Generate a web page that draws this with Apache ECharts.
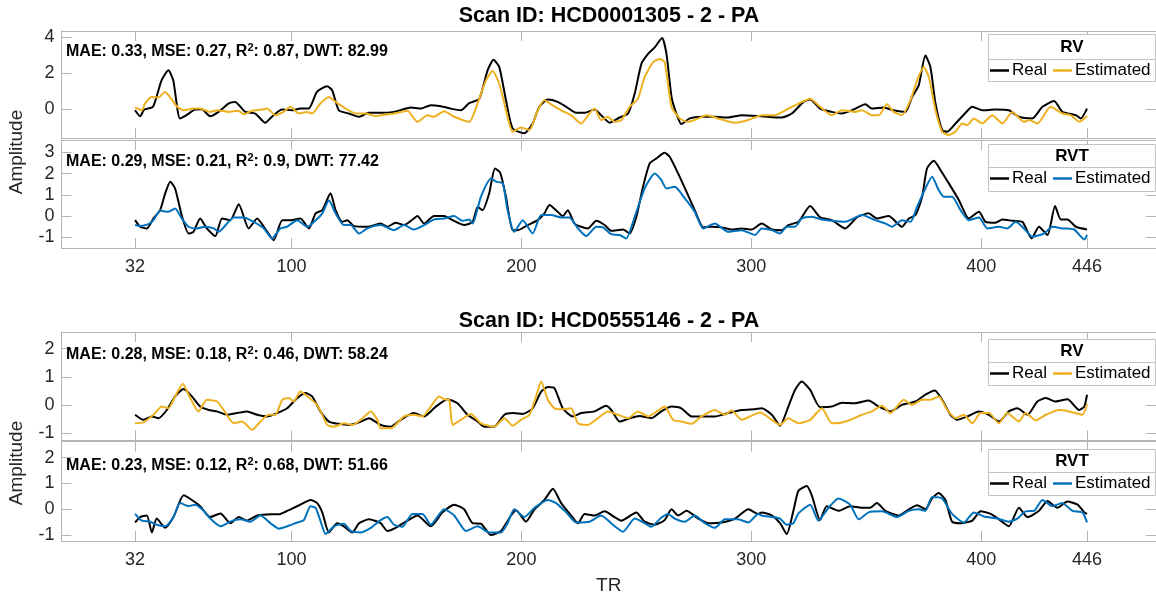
<!DOCTYPE html>
<html>
<head>
<meta charset="utf-8">
<script src="https://cdn.jsdelivr.net/npm/echarts@6/dist/echarts.min.js"></script>
<style>
  html, body { margin: 0; background: #fff; }
  #chart { width: 1156px; height: 596px; }
</style>
</head>
<body>
<div id="chart"></div>
<script>
// tick labels of the TR axis
const trTicks = [32, 100, 200, 300, 400, 446];

// Scan HCD0001305 - RV
const s1RvReal = [[32,-0.04],[34.2,-0.37],[36,0],[39.8,0.15],[43.5,1.61],[46.5,2.16],[48.6,1.61],[51.5,-0.49],[54.4,-0.31],[58,0],[61,0.02],[64.6,-0.37],[68.3,-0.13],[72.6,0.33],[75.5,0.42],[79.9,-0.13],[84.3,-0.22],[88.6,-0.73],[91.5,-0.4],[95.9,0],[100.2,-0.04],[103.8,0.05],[107.5,0.05],[111.1,0.97],[115.5,1.28],[117.7,1.06],[120.6,-0.04],[124.9,-0.22],[129.3,-0.4],[133.7,-0.18],[138.8,-0.18],[144.6,-0.13],[151.9,0.11],[156.2,0.05],[160.6,0.24],[165,0.18],[169.3,0.05],[173.7,-0.04],[177.3,0.35],[181.7,0.6],[185.3,2.16],[187.9,2.74],[190.4,2.34],[193.3,0.51],[196.2,-1.04],[201.3,-1.31],[204.9,-0.77],[207.8,0.15],[211.5,0.55],[215.8,0.42],[219.5,0.15],[223.8,-0.18],[227.5,-0.18],[231.8,0],[234.7,-0.31],[238.4,-0.73],[242.7,-0.44],[246.4,-0.22],[249.3,0.88],[252.2,2.52],[255.1,3.07],[258,3.43],[261.2,3.95],[263.1,3.07],[265.3,0.69],[267.4,-0.22],[269.6,-0.8],[273.2,-0.49],[278.3,-0.4],[284.1,-0.4],[290,-0.44],[295.8,-0.31],[304.5,-0.37],[313.2,-0.44],[317.6,-0.22],[322.7,0.42],[325.6,0.55],[329.9,0.05],[335,-0.13],[339.4,-0.22],[344.5,0],[349.6,0.29],[352.5,0.05],[357.5,0.11],[361.9,-0.04],[367,-0.13],[369.9,0.69],[372.8,1.33],[375.7,2.98],[377.9,2.34],[380.1,0.33],[383,-1.13],[385.2,-1.22],[388.8,-0.77],[393.2,-0.18],[396.1,0.15],[400.4,-0.04],[406.2,0],[412,-0.04],[416.4,-0.4],[422.2,-0.49],[426.6,0.15],[431.7,0.47],[435.3,-0.13],[441.1,-0.31],[443.3,-0.49],[446,0.05]];
const s1RvEst = [[32,0.11],[35,-0.04],[36.3,0.33],[39.2,0.69],[42.1,0.66],[45,0.97],[47.2,0.69],[50.1,0.18],[53,-0.04],[57.4,0.05],[60.3,0.05],[64.6,-0.13],[67.6,-0.04],[72.6,-0.13],[77,-0.07],[79.2,-0.26],[82.8,-0.07],[87.2,0],[89.4,0.05],[93,-0.31],[96.6,-0.13],[99.6,0.15],[103.2,-0.22],[106.9,-0.13],[109,-0.22],[112.6,0.33],[116.3,0.69],[119.2,0.42],[123.6,0.05],[128,-0.22],[132.3,-0.22],[136.7,-0.37],[138.8,-0.31],[144.6,-0.22],[150.4,-0.07],[154.8,-0.68],[159.1,-0.31],[162,-0.4],[166.4,-0.09],[170.8,-0.4],[177.3,-0.68],[180.9,0.33],[184.6,1.61],[187.5,2.12],[190.4,1.42],[193.3,-0.04],[196.2,-1.22],[199.8,-0.99],[203.5,-1.13],[207.1,-0.04],[210,0.51],[212.9,0.29],[217.3,-0.04],[221.6,-0.31],[226,-0.77],[229.6,-0.22],[231.8,0.05],[234.7,-0.58],[237.6,-0.4],[240.5,-0.68],[243.5,-0.58],[247.1,0.15],[250.7,0.6],[253.6,1.79],[257.3,2.61],[260.2,2.79],[262.3,2.61],[265.3,0.15],[268.9,-0.49],[272.5,-0.68],[276.9,-0.49],[280.5,-0.31],[285.6,-0.49],[292.9,-0.73],[298.7,-0.58],[304.5,-0.31],[310.3,-0.31],[316.1,0.05],[320.5,0.33],[325.6,0.6],[329.9,0.15],[335,-0.31],[339.4,-0.04],[345.2,-0.13],[348.1,-0.04],[352.5,-0.31],[355.4,-0.31],[359,0.29],[361.9,-0.13],[365.5,-0.31],[369.2,0.51],[372.1,1.61],[375,2.34],[377.2,1.79],[380.1,-0.04],[383,-1.22],[385.9,-1.4],[388.8,-1.22],[391.7,-0.77],[393.9,-0.86],[396.8,-0.49],[400.4,-0.77],[404.8,-0.31],[409.2,-0.77],[413.5,-0.13],[418.6,-0.68],[420.8,-0.58],[424.4,-0.77],[430.2,0.15],[435.3,-0.22],[438.9,-0.31],[442.6,-0.68],[446,-0.37]];

// Scan HCD0001305 - RVT
const s1RvtReal = [[32,-0.19],[34.2,-0.5],[37.1,-0.58],[40,-0.11],[42.9,0.28],[45.1,1.07],[47.3,1.62],[49.4,1.3],[52.3,0.03],[55.3,-0.82],[57.4,-0.74],[60.3,-0.11],[63.2,-0.58],[66.9,-0.94],[69.8,-0.11],[73.4,-0.19],[77.1,0.56],[81.4,-0.58],[85.1,-0.11],[88,-0.5],[92.3,-1.13],[96,-0.19],[99.6,-0.19],[103.9,-0.11],[107.6,-0.58],[110.5,0.13],[113.4,0.28],[117,1.07],[119.2,0.28],[122.1,-0.27],[124.3,-0.19],[127.2,-0.47],[133,-0.5],[138.8,-0.35],[141.7,-0.5],[145.3,-0.31],[149,-0.42],[153.3,-0.11],[154.8,0],[157.7,-0.35],[162,0],[166.4,0],[170.1,-0.19],[175.1,-0.42],[178.8,-0.27],[181,0.44],[183.1,0.28],[186,1.07],[188.5,2.24],[190.8,2.04],[193.3,0.91],[196.2,-0.66],[198.4,-0.66],[202.8,-0.42],[207.1,-0.19],[210,0.13],[212.2,0.52],[215.1,0.28],[218,0],[220.2,0.28],[223.1,-0.35],[226,-0.5],[228.9,-0.58],[232.6,-0.22],[236.2,-0.42],[239.1,-0.69],[244.2,-0.63],[247.1,-0.82],[250,-0.03],[252.9,1.38],[255.8,2.48],[258.7,2.71],[262.3,2.98],[264.5,2.79],[268.2,2],[271.8,1.15],[275.4,0.28],[279.1,-0.53],[282.7,-0.5],[287.1,-0.53],[291.4,-0.63],[295.8,-0.58],[300.1,-0.63],[304.5,-0.35],[308.9,-0.63],[313.2,-0.66],[316.1,-0.42],[320.5,-0.27],[325.6,0.47],[329.9,-0.06],[335,-0.19],[340.8,-0.58],[345.9,-0.06],[351,0.13],[354.6,-0.11],[359.7,0],[365.5,-0.5],[368.5,-0.11],[371.4,0.05],[374.3,0.91],[376.4,2.24],[379.4,2.6],[382.3,2.16],[385.9,1.54],[390.3,0.75],[394.6,-0.11],[399,0.2],[401.9,-0.27],[406.2,-0.31],[409.2,-0.16],[413.5,-0.22],[417.9,-0.27],[421.9,-1.05],[425.1,-0.5],[428.8,-0.89],[432.1,0.47],[434.6,-0.16],[437.5,-0.16],[441.1,-0.5],[446,-0.63]];
const s1RvtEst = [[32,-0.42],[34.2,-0.47],[37.8,-0.38],[40,-0.19],[42.9,0.25],[46.5,0.2],[49.4,0.36],[52.3,-0.11],[55.3,-0.5],[58.9,-0.58],[62.5,-0.5],[66.2,-0.58],[68.3,-0.74],[72,-0.35],[74.9,-0.06],[79.2,-0.06],[83.6,-0.27],[88,-0.58],[91.6,-1.05],[95.2,-0.58],[98.1,-0.5],[102.5,-0.19],[106.9,-0.5],[109.8,-0.27],[113.4,0.13],[116.3,0.75],[119.2,0.13],[122.8,-0.42],[125.8,-0.42],[129.4,-0.82],[133,-0.58],[138.8,-0.42],[144.6,-0.66],[149,-0.42],[153.3,-0.63],[157.7,-0.42],[162,-0.16],[166.4,-0.11],[170.8,0],[174.4,-0.22],[177.3,-0.16],[178.8,-0.35],[182.4,0.91],[186.8,1.77],[189,1.62],[191.9,1.54],[194,0.28],[196.9,-0.74],[200.6,-0.19],[204.9,-0.82],[208.6,0.05],[212.9,0.05],[217.3,-0.06],[220.9,-0.06],[224.6,-0.58],[228.2,-0.94],[232.6,-0.5],[235.5,-0.53],[239.1,-0.85],[242.7,-0.89],[245.6,-1.05],[249.3,-0.03],[253.6,1.3],[258,2],[260.9,1.69],[263.1,1.3],[266.7,1.38],[271.1,0.83],[275.4,0.2],[279.1,-0.58],[284.1,-0.35],[290,-0.74],[295.8,-0.66],[301.6,-0.89],[304.5,-0.58],[308.9,-0.66],[312.5,-0.82],[315.4,-0.5],[319,-0.5],[322,-0.11],[326.3,-0.03],[330.7,-0.16],[335,-0.22],[340.8,-0.27],[348.1,0.05],[353.9,-0.19],[358.3,-0.35],[361.2,-0.5],[365.5,-0.19],[369.2,-0.27],[372.1,0.44],[375.7,1.3],[378.6,1.85],[381.5,1.22],[383.7,0.91],[387.3,0.91],[391,0.28],[394.6,-0.19],[399,-0.06],[402.6,-0.58],[407.7,-0.5],[411.3,-0.58],[415,-0.27],[419.3,-0.66],[422.2,-0.97],[427.3,-0.82],[430.9,-0.5],[435.3,-0.58],[440.4,-0.63],[444.8,-1.1],[446,-0.89]];

// Scan HCD0555146 - RV
const s2RvReal = [[32,-0.34],[35.6,-0.52],[39.3,-0.4],[42.2,-0.46],[45.8,-0.17],[49.4,0.31],[53.1,0.57],[56.7,0.31],[60.3,-0.05],[64,-0.17],[67.6,-0.22],[72,-0.34],[76.3,-0.28],[80.7,-0.22],[85.1,-0.34],[89.4,-0.4],[93.8,-0.28],[98.1,-0.11],[102.5,0.25],[106.1,0.43],[109,0.31],[112.6,-0.22],[116.3,-0.58],[120.6,-0.66],[125,-0.7],[129.4,-0.61],[133.7,-0.46],[138.8,-0.7],[143.2,-0.76],[147.5,-0.52],[153.3,-0.28],[157.7,-0.4],[162.8,-0.05],[167.9,0.21],[172.2,0.07],[176.6,-0.34],[181,-0.58],[183.9,-0.76],[188.2,-0.76],[192.6,-0.34],[196.2,-0.28],[200.6,-0.31],[204.9,-0.11],[208.6,0.48],[211.5,0.64],[214.4,0.6],[218,-0.11],[222.4,-0.4],[226,-0.28],[231.8,-0.22],[236.9,-0.02],[239.1,-0.17],[242.7,-0.58],[247.1,-0.46],[251.4,-0.38],[256.5,-0.46],[260.9,-0.22],[265.3,-0.05],[269.6,-0.11],[274,-0.4],[278.3,-0.4],[284.1,-0.4],[290,-0.28],[295.8,-0.17],[301.6,-0.14],[304.5,-0.11],[308.9,-0.34],[312.5,-0.73],[316.1,-0.05],[319,0.54],[321.9,0.84],[325.6,0.54],[329.9,-0.07],[335,-0.05],[339.4,0.09],[345.2,0.07],[351,0.17],[355.4,-0.05],[360.5,-0.22],[365.5,0.01],[371.4,0.13],[375.7,0.37],[379.8,0.52],[383,0.19],[386.6,-0.34],[389.5,-0.52],[393.9,-0.4],[399,-0.22],[403.3,-0.34],[407.7,-0.58],[412,-0.22],[415.7,-0.11],[420.1,-0.34],[424.4,0.13],[428.1,0.25],[432.4,0.13],[437.5,0.21],[442.6,-0.17],[444.8,-0.05],[446,0.37]];
const s2RvEst = [[32,-0.64],[35.6,-0.61],[40,-0.34],[43.6,-0.05],[46.5,-0.11],[49.4,0.31],[52.8,0.76],[55.3,0.37],[59.6,-0.22],[63.2,0.19],[67.6,0.13],[70.5,-0.17],[74.9,-0.64],[78.5,-0.58],[82.9,-0.87],[86.5,-0.58],[90.1,-0.34],[93,-0.34],[96,0.19],[98.9,0.25],[101,0.13],[103.9,0.48],[106.9,0.31],[110.5,0.07],[112.7,-0.22],[115.6,-0.7],[118.5,-0.76],[122.8,-0.64],[126.5,-0.7],[130.1,-0.52],[134.5,-0.22],[137.4,-0.52],[138.8,-0.82],[143.2,-0.82],[149,-0.4],[153.3,-0.34],[157,-0.4],[160.6,-0.05],[164.2,0.31],[166.4,0.21],[168.6,0.19],[170.1,-0.7],[173.7,-0.52],[178,-0.31],[182.4,-0.64],[188.2,-0.76],[192.6,-0.46],[196.2,-0.73],[199.8,-0.52],[203.5,-0.34],[206.4,0.31],[208.6,0.84],[211.5,0.19],[214.4,-0.11],[218,-0.14],[221.6,-0.11],[224.6,-0.64],[228.9,-0.7],[233.3,-0.46],[237.6,-0.22],[241.9,-0.34],[246.4,-0.46],[250.7,-0.22],[255.1,-0.4],[259.4,-0.19],[262.3,-0.05],[266,-0.52],[269.6,-0.58],[274,-0.66],[278.3,-0.4],[284.1,-0.17],[288.5,-0.34],[291.4,-0.19],[295.8,-0.52],[299.4,-0.4],[303.8,-0.26],[308.9,-0.52],[312.5,-0.7],[316.1,-0.46],[320.5,-0.64],[325.6,-0.52],[330.7,-0.11],[335,-0.64],[339.4,-0.61],[343.7,-0.5],[348.1,-0.34],[352.5,-0.22],[356.8,-0.02],[360.5,-0.28],[366.3,0.19],[369.9,0.01],[374.3,0.19],[377.9,0.19],[381.5,0.31],[385.2,-0.17],[388.8,-0.46],[392.4,-0.34],[396.1,-0.64],[399.7,-0.28],[403.3,-0.28],[407.7,-0.64],[411.3,-0.28],[416.4,-0.58],[419.3,-0.28],[423.7,-0.54],[428.1,-0.34],[433.9,-0.17],[438.2,-0.22],[444,-0.34],[446,0.05]];

// Scan HCD0555146 - RVT
const s2RvtReal = [[32,-0.51],[34.2,-0.3],[37.1,-0.24],[39.3,-0.9],[41.4,-0.36],[45.1,-0.72],[48.7,-0.3],[53.1,0.54],[56.7,0.36],[60.3,0.12],[64.7,-0.3],[69.1,-0.16],[73.4,-0.54],[77.1,-0.3],[80.7,-0.44],[85.1,-0.24],[89.4,-0.2],[95.2,-0.18],[99.6,0],[103.9,0.18],[108.3,0.36],[111.2,0.24],[113.4,-0.12],[116.3,-0.9],[119.9,-0.54],[122.8,-0.66],[126.5,-0.9],[129.4,-0.54],[133.7,-0.39],[138.8,-0.54],[141.7,-0.84],[145.3,-0.72],[149.7,-0.48],[154.8,-0.24],[160.6,-0.66],[165.7,-0.12],[170.8,0.18],[175.1,0],[178.8,-0.54],[182.4,-0.56],[186.8,-1],[191.1,-0.84],[195.5,-0.24],[197.7,-0.04],[202,-0.48],[205.7,0],[210,0.36],[213.7,0.8],[217.3,0.24],[221.6,-0.24],[224.6,-0.54],[227.5,-0.18],[231.8,-0.24],[236.2,-0.08],[240.5,-0.3],[243.5,-0.44],[250,-0.12],[253.6,-0.48],[258,-0.6],[262.3,-0.42],[265.3,0],[268.2,-0.24],[271.8,-0.06],[276.9,-0.36],[281.2,-0.54],[287.1,-0.51],[292.9,-0.36],[298.7,0],[303,-0.18],[304.5,-0.12],[308.9,-0.24],[312.5,-0.54],[315.4,-0.96],[318.3,-0.06],[320.5,0.72],[324.1,0.9],[326.3,0.54],[329.9,-0.42],[332.8,0.12],[337.9,-0.06],[343,0.12],[348.1,0.06],[351.7,0.06],[354.6,0.24],[358.3,-0.06],[364.1,-0.24],[368.5,0],[372.1,0.16],[375.7,0],[378.6,0.42],[381.5,0.63],[384.4,0.36],[387.3,-0.48],[391,-0.54],[396.1,-0.44],[399.7,-0.08],[404.1,-0.18],[407.7,-0.39],[412,-0.66],[416.4,0.06],[420.1,-0.3],[425.1,-0.06],[428.8,0.32],[433.1,0.06],[437.5,0.3],[441.9,0.18],[444.8,-0.12],[446,-0.18]];
const s2RvtEst = [[32,-0.18],[34.9,-0.44],[38.5,-0.48],[41.4,-0.6],[45.1,-0.66],[48.7,-0.3],[51.6,0.24],[55.3,0.12],[58.2,0.18],[61.1,0],[64.7,-0.36],[69.1,-0.66],[73.4,-0.48],[77.8,-0.39],[82.1,-0.48],[86.5,-0.24],[90.9,-0.54],[94.5,-0.75],[98.1,-0.66],[102.5,-0.51],[105.4,-0.42],[108.3,0.12],[110.5,0.06],[113.4,-0.66],[114.8,-0.96],[118.5,-0.66],[122.8,-0.56],[125.8,-0.84],[130.1,-0.9],[134.5,-0.72],[138.8,-0.42],[141.7,-0.3],[144.6,-0.6],[148.2,-0.68],[152.6,-0.18],[157,-0.18],[160.6,-0.6],[166.4,0],[170.8,-0.24],[175.9,-0.84],[181,-0.66],[186,-0.9],[191.1,-0.9],[194,-0.54],[196.9,0],[201.3,-0.3],[205.7,0.06],[211.5,0.36],[215.1,0.24],[219.5,-0.12],[223.8,-0.51],[229.6,-0.48],[234.7,-0.24],[239.8,-0.6],[244.2,-0.87],[249.3,-0.36],[253.6,-0.54],[256.5,-0.68],[260.9,-0.32],[263.8,-0.18],[266.7,-0.36],[271.1,-0.48],[275.4,-0.24],[279.8,-0.54],[284.1,-0.72],[288.5,-0.39],[294.3,-0.39],[298.7,-0.51],[303,-0.18],[304.5,-0.24],[308.9,-0.3],[312.5,-0.36],[315.4,-0.6],[318.3,-0.54],[320.5,-0.16],[325.6,0.18],[329.2,-0.44],[333.6,0.06],[337.9,0.42],[343,0.18],[346.7,-0.39],[351,-0.12],[356.8,-0.08],[363.4,-0.3],[368.5,-0.06],[372.8,0],[375.7,-0.06],[378.6,0.48],[383,0.42],[387.3,-0.18],[392.4,-0.51],[396.8,-0.12],[401.2,-0.28],[407,-0.36],[412,-0.48],[415.7,-0.36],[419.3,-0.08],[423,-0.06],[426.6,0.36],[431,0.12],[435.1,0.24],[439.7,-0.06],[444,-0.12],[446,-0.51]];

const titles = ['Scan ID: HCD0001305 - 2 - PA', 'Scan ID: HCD0555146 - 2 - PA'];
const metrics = [
  ['0.33', '0.27', '0.87', '82.99'],
  ['0.29', '0.21', '0.9', '77.42'],
  ['0.28', '0.18', '0.46', '58.24'],
  ['0.23', '0.12', '0.68', '51.66']
];
const panelNames = ['RV', 'RVT', 'RV', 'RVT'];

const FONT = '"Liberation Sans", Arial, Helvetica, sans-serif';
const AXIS_GRAY = '#b3b3b3';
const TEXT_GRAY = '#262626';
const ORANGE = '#EDB120';
const BLUE = '#0072BD';

const grids = [
  { left: 61.5, top: 31, width: 1095, height: 107 },
  { left: 61.5, top: 140, width: 1095, height: 108 },
  { left: 61.5, top: 332, width: 1095, height: 108.5 },
  { left: 61.5, top: 441.5, width: 1095, height: 108 }
];
const yRanges = [[-1.57, 4.33], [-1.5, 3.58], [-1.25, 2.59], [-1.23, 2.63]];
const yTicks = [[0, 2, 4], [-1, 0, 1, 2, 3], [-1, 0, 1, 2], [-1, 0, 1, 2]];
const seriesData = [
  [s1RvReal, s1RvEst, ORANGE],
  [s1RvtReal, s1RvtEst, BLUE],
  [s2RvReal, s2RvEst, ORANGE],
  [s2RvtReal, s2RvtEst, BLUE]
];
// legend box: top, divider, bottom
const legendBoxes = [[34, 59, 81], [144, 167, 191], [339, 362, 385], [449, 472, 495]];
const metricY = [52, 162, 355, 466];

const lineAxis = { show: true, onZero: false, lineStyle: { color: AXIS_GRAY, width: 1 } };
const tickStyle = { inside: true, length: 10, lineStyle: { color: AXIS_GRAY } };

const xAxis = [];
const yAxis = [];
const series = [];
grids.forEach((g, i) => {
  const labelled = i === 1 || i === 3;
  xAxis.push({
    type: 'value', gridIndex: i, min: 0, max: 476, position: 'bottom',
    axisLine: lineAxis,
    axisTick: Object.assign({ customValues: trTicks }, tickStyle),
    axisLabel: {
      show: labelled, customValues: trTicks, margin: 10,
      fontSize: 18, color: TEXT_GRAY, fontFamily: FONT
    },
    splitLine: { show: false },
    name: i === 3 ? 'TR' : '', nameLocation: 'middle', nameGap: 35,
    nameTextStyle: { fontSize: 19, color: TEXT_GRAY, fontFamily: FONT }
  });
  xAxis.push({
    type: 'value', gridIndex: i, min: 0, max: 476, position: 'top',
    axisLine: lineAxis,
    axisTick: Object.assign({ customValues: trTicks }, tickStyle),
    axisLabel: { show: false }, splitLine: { show: false }
  });
  yAxis.push({
    type: 'value', gridIndex: i, min: yRanges[i][0], max: yRanges[i][1], position: 'left',
    axisLine: lineAxis,
    axisTick: Object.assign({ customValues: yTicks[i] }, tickStyle),
    axisLabel: {
      customValues: yTicks[i], margin: 7,
      fontSize: 18, color: TEXT_GRAY, fontFamily: FONT
    },
    splitLine: { show: false }
  });
  yAxis.push({
    type: 'value', gridIndex: i, min: yRanges[i][0], max: yRanges[i][1], position: 'right',
    axisLine: lineAxis,
    axisTick: Object.assign({ customValues: yTicks[i] }, tickStyle),
    axisLabel: { show: false }, splitLine: { show: false }
  });

  const [real, est, estColor] = seriesData[i];
  series.push({
    name: 'Real', type: 'line', xAxisIndex: 2 * i, yAxisIndex: 2 * i,
    data: real, showSymbol: false, smooth: 0.2, z: 2,
    itemStyle: { color: '#000' },
    lineStyle: { color: '#000', width: 2 }
  });
  series.push({
    name: 'Estimated', type: 'line', xAxisIndex: 2 * i, yAxisIndex: 2 * i,
    data: est, showSymbol: false, smooth: 0.2, z: 3,
    itemStyle: { color: estColor },
    lineStyle: { color: estColor, width: 2 }
  });
});

const legend = legendBoxes.map((b, i) => ({
  left: 990, top: b[1] + 3, padding: 0, z: 30,
  selectedMode: false, icon: 'rect', itemWidth: 19, itemHeight: 2.5, itemGap: 6,
  textStyle: { fontSize: 17, color: '#000', fontFamily: FONT, padding: [0, 0, 0, -2] },
  data: [
    { name: 'Real', itemStyle: { color: '#000' } },
    { name: 'Estimated', itemStyle: { color: seriesData[i][2] } }
  ]
}));

const graphic = [];
titles.forEach((t, k) => {
  graphic.push({
    type: 'text', x: 609, y: k === 0 ? 16 : 321.5, z: 40,
    style: {
      text: t, fill: '#000', fontSize: 21.5, fontWeight: 'bold', fontFamily: FONT,
      align: 'center', verticalAlign: 'middle', textAlign: 'center', textVerticalAlign: 'middle'
    }
  });
});
// the y label sits beside the lower half of each pair of panels
[152, 463].forEach(cy => {
  graphic.push({
    type: 'text', x: 17, y: cy, rotation: Math.PI / 2, z: 40,
    style: {
      text: 'Amplitude', fill: TEXT_GRAY, fontSize: 19, fontFamily: FONT,
      align: 'center', verticalAlign: 'middle', textAlign: 'center', textVerticalAlign: 'middle'
    }
  });
});
metrics.forEach((m, i) => {
  graphic.push({
    type: 'text', x: 66, y: metricY[i], z: 40,
    style: {
      text: 'MAE: ' + m[0] + ', MSE: ' + m[1] + ', R{sup|2}: ' + m[2] + ', DWT: ' + m[3],
      fill: '#000', fontSize: 16, fontWeight: 'bold', fontFamily: FONT, lineHeight: 20,
      verticalAlign: 'middle', textVerticalAlign: 'middle',
      rich: {
        sup: { fontSize: 11, fontWeight: 'bold', fontFamily: FONT, verticalAlign: 'top', lineHeight: 11 }
      }
    }
  });
});
legendBoxes.forEach((b, i) => {
  graphic.push({
    type: 'rect', z: 20,
    shape: { x: 988.5, y: b[0] + 0.5, width: 167, height: b[2] - b[0] },
    style: { fill: '#fff', stroke: '#c4c4c4', lineWidth: 1 }
  });
  graphic.push({
    type: 'line', z: 21,
    shape: { x1: 988.5, y1: b[1] + 0.5, x2: 1155.5, y2: b[1] + 0.5 },
    style: { stroke: '#c4c4c4', lineWidth: 1 }
  });
  graphic.push({
    type: 'text', x: 1072, y: (b[0] + b[1]) / 2 + 0.5, z: 22,
    style: {
      text: panelNames[i], fill: '#000', fontSize: 17, fontWeight: 'bold', fontFamily: FONT,
      align: 'center', verticalAlign: 'middle', textAlign: 'center', textVerticalAlign: 'middle'
    }
  });
});

const chart = echarts.init(document.getElementById('chart'));
chart.setOption({
  animation: false,
  backgroundColor: '#fff',
  grid: grids,
  xAxis: xAxis,
  yAxis: yAxis,
  legend: legend,
  graphic: graphic,
  series: series
});
</script>
</body>
</html>
